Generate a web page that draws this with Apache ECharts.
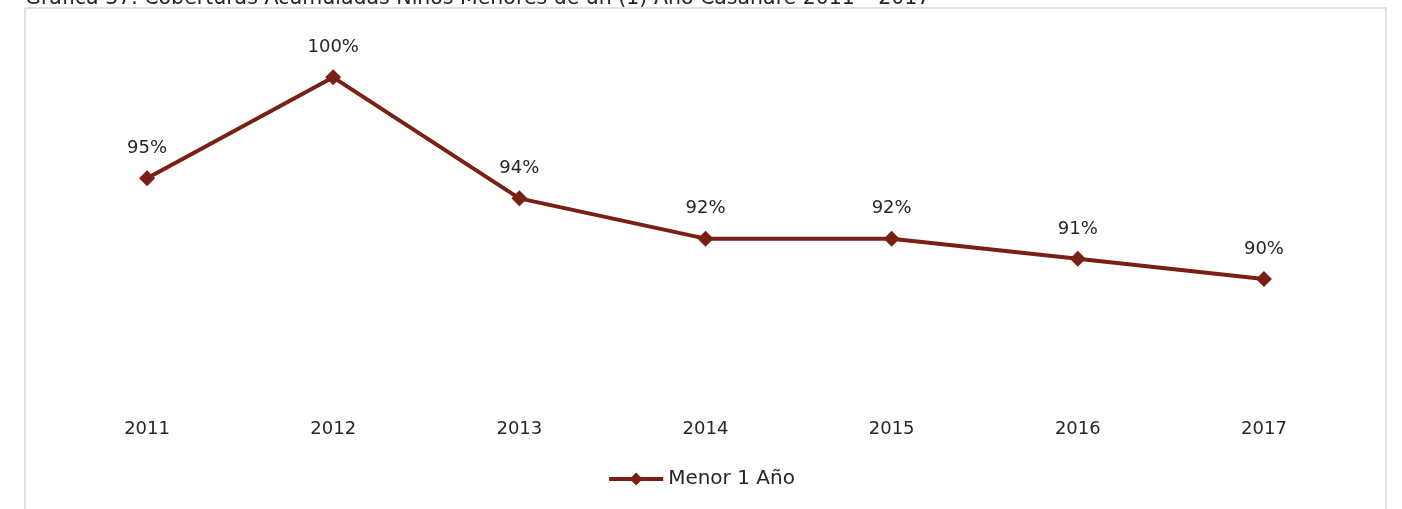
<!DOCTYPE html>
<html>
<head>
<meta charset="utf-8">
<script src="https://cdn.jsdelivr.net/npm/echarts@6/dist/echarts.min.js"></script>
<style>
  html, body { margin: 0; padding: 0; background: #ffffff; }
  #chart { width: 1402px; height: 509px; }
</style>
</head>
<body>
<div id="chart"></div>
<script>
// Coberturas acumuladas, niños menores de un año
const years = ['2011', '2012', '2013', '2014', '2015', '2016', '2017'];
const menor1Anio = [95, 100, 94, 92, 92, 91, 90];
const seriesName = 'Menor 1 Año';
const titleText = 'Gráfica 37. Coberturas Acumuladas Niños Menores de un (1) Año Casanare 2011 – 2017';

const FONT = 'DejaVu Sans';
const MAROON = '#7a1f13';

const chart = echarts.init(document.getElementById('chart'), null, { renderer: 'canvas' });

chart.setOption({
  animation: false,
  backgroundColor: '#ffffff',
  textStyle: { fontFamily: FONT },
  graphic: [
    {
      type: 'rect',
      shape: { x: 25, y: 8, width: 1361, height: 520 },
      style: { fill: 'none', stroke: '#d9d9d9', lineWidth: 1.5 },
      silent: true
    },
    {
      type: 'text',
      x: 25,
      y: 9,
      style: {
        text: titleText,
        font: '20.5px ' + FONT,
        fill: '#262626',
        verticalAlign: 'bottom'
      },
      silent: true
    }
  ],
  grid: { left: 54, right: 45, top: 37, bottom: 109 },
  legend: {
    bottom: 15,
    left: 'center',
    itemWidth: 54,
    itemHeight: 16,
    itemGap: 4,
    lineStyle: { width: 4 },
    textStyle: { fontSize: 20, color: '#262626', fontFamily: FONT },
    data: [seriesName]
  },
  xAxis: {
    type: 'category',
    data: years,
    boundaryGap: true,
    axisLine: { show: false },
    axisTick: { show: false },
    axisLabel: { color: '#262626', fontSize: 18, margin: 20, fontFamily: FONT }
  },
  yAxis: {
    type: 'value',
    min: 84,
    max: 102,
    show: false,
    splitLine: { show: false }
  },
  series: [{
    name: seriesName,
    type: 'line',
    data: menor1Anio,
    symbol: 'diamond',
    symbolSize: 16,
    itemStyle: { color: MAROON },
    lineStyle: { color: MAROON, width: 4 },
    label: {
      show: true,
      position: 'top',
      distance: 13,
      formatter: p => p.value + '%',
      color: '#262626',
      fontSize: 18,
      fontFamily: FONT
    }
  }]
});
</script>
</body>
</html>
